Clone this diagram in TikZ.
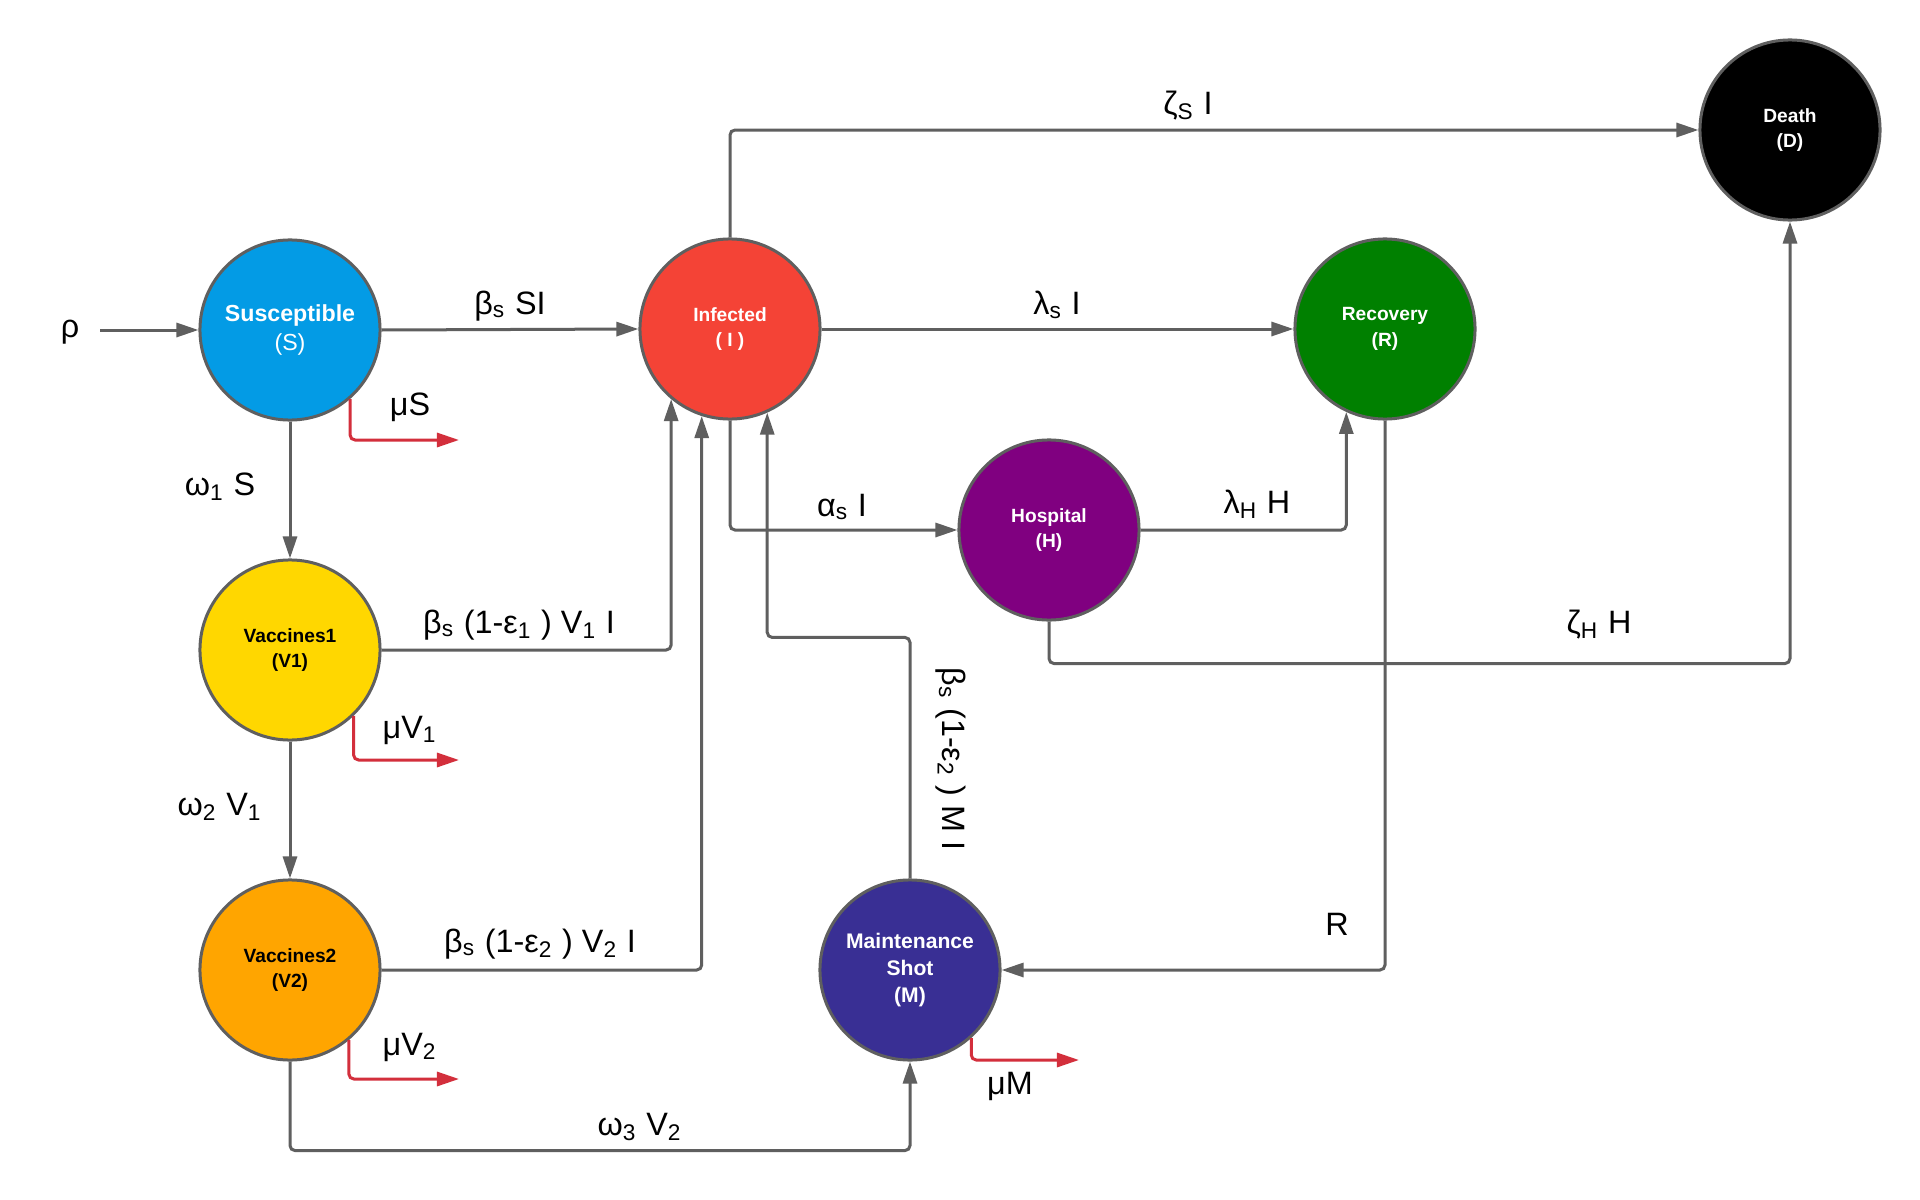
\documentclass[tikz,border=0pt]{standalone}
\usepackage{fontspec}
\setmainfont{Liberation Sans}
\usetikzlibrary{arrows.meta,calc}
\definecolor{edgegray}{HTML}{5F5F5F}
\definecolor{lossred}{HTML}{D32F3C}
\definecolor{cS}{HTML}{039BE5}
\definecolor{cI}{HTML}{F44336}
\definecolor{cR}{HTML}{008000}
\definecolor{cH}{HTML}{800080}
\definecolor{cVa}{HTML}{FFD700}
\definecolor{cVb}{HTML}{FFA500}
\definecolor{cM}{HTML}{392F94}
\tikzset{
  comp/.style={circle, draw=edgegray, line width=0.03cm, minimum size=1.8cm,
    inner sep=0pt, align=center, text=white,
    font=\fontsize{5.45}{7.2}\selectfont\bfseries},
  flow/.style={draw=edgegray, line width=0.03cm, rounded corners=0.05cm,
    -{Triangle[length=0.22cm,width=0.14cm]}},
  loss/.style={draw=lossred, line width=0.03cm, rounded corners=0.05cm,
    -{Triangle[length=0.22cm,width=0.14cm]}},
  lbl/.style={inner sep=0pt, font=\fontsize{9.2}{10.5}\selectfont}
}
\begin{document}
\begin{tikzpicture}[x=0.01cm,y=-0.01cm]
\useasboundingbox[fill=white] (0,0) rectangle (1920,1200);
% compartments
\node[comp, fill=cS, font=\fontsize{6.6}{8}\selectfont] (S) at (290,330) {\textbf{Susceptible}\\(S)};
\node[comp, fill=cI] (I) at (730,329) {Infected\\( I )};
\node[comp, fill=cR] (R) at (1385,329) {Recovery\\(R)};
\node[comp, fill=black] (D) at (1790,130) {Death\\(D)};
\node[comp, fill=cH] (H) at (1049,530) {Hospital\\(H)};
\node[comp, fill=cVa, text=black] (V1) at (290,650) {Vaccines1\\(V1)};
\node[comp, fill=cVb, text=black] (V2) at (290,970) {Vaccines2\\(V2)};
\node[comp, fill=cM, font=\fontsize{6}{7.6}\selectfont\bfseries] (M) at (910,970) {Maintenance\\Shot\\(M)};
% source
\coordinate (src) at (100,330);
\node[lbl] (rho) at (70,332) {ρ};
\draw[flow] (src) -- (S.west);
% main flows
\draw[flow] (S.east) -- (I.west);
\draw[flow] (I.east) -- (R.west);
\draw[flow] (I.north) |- (D.west);
\draw[flow] (I.south) |- (H.west);
\draw[flow] (H.east) -| (R.245.7);
\draw[flow] (H.south) -- ++(0,42) -| (D.south);
\draw[flow] (S.south) -- (V1.north);
\draw[flow] (V1.south) -- (V2.north);
\draw[flow] (V1.east) -| (I.230);
\draw[flow] (V2.east) -| (I.252.5);
\draw[flow] (V2.south) -- ++(0,89) -| (M.south);
\draw[flow] (M.north) -- ++(0,-241) -| (I.294.3);
\draw[flow] (R.south) |- (M.east);
% natural death
\coordinate (oS) at (459,440);
\coordinate (oV1) at (459,760);
\coordinate (oV2) at (459,1079);
\coordinate (oM) at (1079,1060);
\draw[loss] (S.311.8) |- (oS);
\draw[loss] (V1.314.7) |- (oV1);
\draw[loss] (V2.310) |- (oV2);
\draw[loss] (M.312.7) |- (oM);
% labels
\node[lbl] (lSI) at (510,306) {β\textsubscript{s} SI};
\node[lbl] (lmuS) at (410,407) {μS};
\node[lbl] (lw1) at (220,487) {ω\textsubscript{1} S};
\node[lbl] (lV1I) at (519,625) {β\textsubscript{s} (1-ε\textsubscript{1} ) V\textsubscript{1} I};
\node[lbl] (lmuV1) at (410,730) {μV\textsubscript{1}};
\node[lbl] (lw2) at (220,807) {ω\textsubscript{2} V\textsubscript{1}};
\node[lbl] (lV2I) at (540,944) {β\textsubscript{s} (1-ε\textsubscript{2} ) V\textsubscript{2} I};
\node[lbl] (lmuV2) at (410,1047) {μV\textsubscript{2}};
\node[lbl] (lw3) at (640,1127) {ω\textsubscript{3} V\textsubscript{2}};
\node[lbl, rotate=-90] (lMI) at (951,759) {β\textsubscript{s} (1-ε\textsubscript{2} ) M I};
\node[lbl] (lmuM) at (1010,1086) {μM};
\node[lbl] (lR) at (1337,924) {R};
\node[lbl] (la) at (842,507) {α\textsubscript{s} I};
\node[lbl] (llI) at (1057,305) {λ\textsubscript{s} I};
\node[lbl] (lzI) at (1188,106) {ζ\textsubscript{S} I};
\node[lbl] (llH) at (1257,504) {λ\textsubscript{H} H};
\node[lbl] (lzH) at (1599,625) {ζ\textsubscript{H} H};
\end{tikzpicture}
\end{document}
